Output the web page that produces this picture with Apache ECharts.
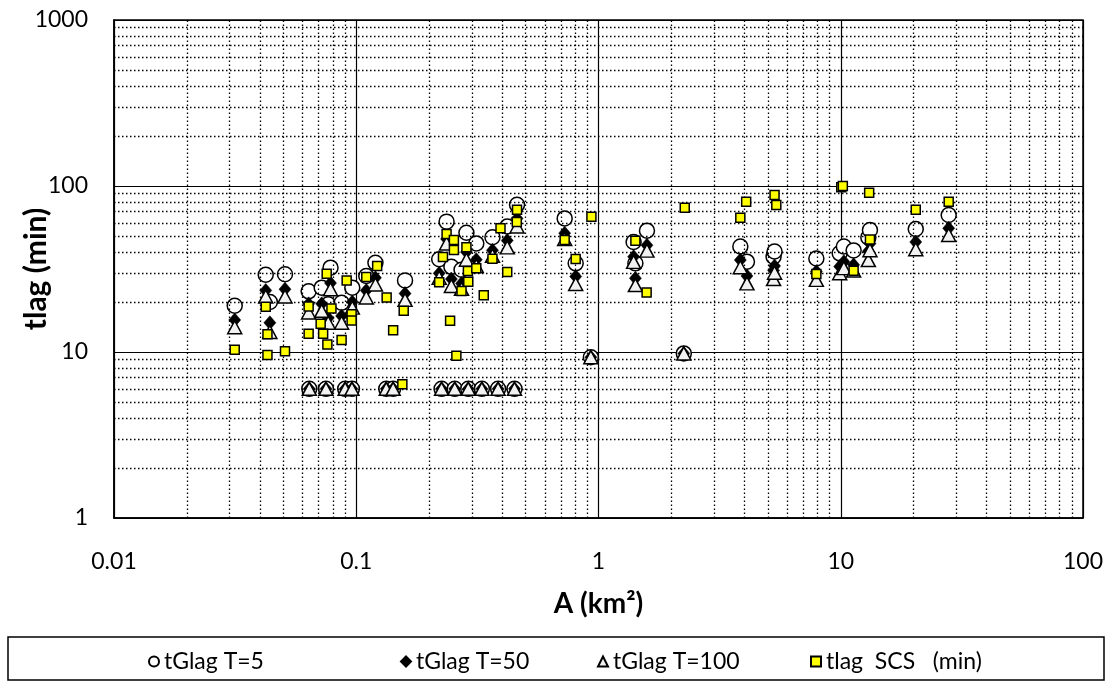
<!DOCTYPE html>
<html>
<head>
<meta charset="utf-8">
<script src="https://cdn.jsdelivr.net/npm/echarts@6/dist/echarts.min.js"></script>
<style>
html,body{margin:0;padding:0;background:#fff;}
#chart{width:1114px;height:682px;}
</style>
</head>
<body>
<div id="chart"></div>
<script>
// ---- Data: [A (km2), tlag (min)] ----
const tGlagT5 = [
  [0.0315,19],[0.0423,29.2],[0.044,20],[0.0508,29.4],[0.0636,23.2],[0.072,24.4],[0.0766,19.4],
  [0.0783,32.2],[0.087,19.8],[0.0963,24.4],[0.11,28.7],[0.12,34.5],[0.159,27],[0.22,36.2],
  [0.236,61],[0.247,32.6],[0.272,31.3],[0.285,52.3],[0.313,45.1],[0.365,49.1],[0.42,57],
  [0.461,77],[0.725,63.8],[0.805,34.2],[1.396,46],[1.42,34.2],[1.585,53.8],[3.85,43.2],
  [4.1,35],[5.28,37.5],[5.33,40.3],[7.93,36.6],[9.9,39.3],[10.3,43.2],[11.3,40.9],[13.0,49],
  [13.2,54.3],[20.4,55.1],[27.9,66.9],
  [0.064,6],[0.075,6],[0.09,6],[0.096,6],[0.133,6],[0.142,6],[0.225,6],[0.255,6],[0.29,6],
  [0.33,6],[0.385,6],[0.45,6],[0.93,9.3],[2.25,9.8]
];
const tGlagT50 = [
  [0.0315,15.6],[0.0423,23.5],[0.044,15],[0.0508,23.9],[0.0636,19.5],[0.072,19.5],[0.0766,16],
  [0.0783,26],[0.087,16.5],[0.0963,20],[0.11,23.5],[0.12,28],[0.159,22.5],[0.22,29.8],
  [0.236,48],[0.247,27.5],[0.272,25.9],[0.285,40],[0.313,36],[0.365,41],[0.42,47],
  [0.461,63.7],[0.725,52],[0.805,28.5],[1.396,37.5],[1.42,27.8],[1.585,44],[3.85,35.8],
  [4.1,28.7],[5.28,31],[5.33,33],[7.93,30.5],[9.9,32.7],[10.3,35],[11.3,33.5],[13.0,40.5],
  [13.2,45],[20.4,46],[27.9,55.6],
  [0.064,6],[0.075,6],[0.09,6],[0.096,6],[0.133,6],[0.142,6],[0.225,6],[0.255,6],[0.29,6],
  [0.33,6],[0.385,6],[0.45,6],[0.93,9.3],[2.25,9.8]
];
const tGlagT100 = [
  [0.0315,14.1],[0.0423,21.6],[0.044,13.2],[0.0508,21.6],[0.0636,17.3],[0.072,17.7],[0.0766,15],
  [0.0783,23.9],[0.087,15],[0.0963,18.5],[0.11,21.3],[0.12,25.5],[0.159,20.6],[0.22,28],
  [0.236,45.1],[0.247,25],[0.272,24],[0.285,36],[0.313,33],[0.365,38],[0.42,42.7],
  [0.461,57],[0.725,48],[0.805,25.7],[1.396,34.9],[1.42,25.3],[1.585,40.8],[3.85,32.4],
  [4.1,25.9],[5.28,27.5],[5.33,30],[7.93,27.2],[9.9,29.8],[10.3,32],[11.3,31],[13.0,35.8],
  [13.2,41],[20.4,41.6],[27.9,50.7],
  [0.064,6],[0.075,6],[0.09,6],[0.096,6],[0.133,6],[0.142,6],[0.225,6],[0.255,6],[0.29,6],
  [0.33,6],[0.385,6],[0.45,6],[0.93,9.3],[2.25,9.8]
];
const tlagSCS = [
  [0.0315,10.3],[0.0423,18.7],[0.043,12.8],[0.043,9.6],[0.0508,10.1],[0.0636,18.8],[0.0636,12.9],
  [0.0713,14.8],[0.073,12.9],[0.0755,29.6],[0.076,11.1],[0.079,18.3],[0.087,11.8],[0.0913,27],
  [0.0957,16.9],[0.0957,15.5],[0.11,28.3],[0.122,33],[0.1335,21.3],[0.142,13.5],[0.157,17.7],
  [0.155,6.4],[0.228,37.4],[0.22,26.3],[0.236,51.4],[0.253,47.3],[0.253,41.1],[0.244,15.4],
  [0.259,9.5],[0.272,23.3],[0.285,42.7],[0.289,30.8],[0.29,26.5],[0.313,31.9],[0.336,22],
  [0.365,36.4],[0.394,55.6],[0.42,30.3],[0.461,72],[0.46,60.7],[0.725,47.3],[0.805,36.3],
  [0.935,65.3],[1.42,46.8],[1.58,22.8],[2.27,74],[3.85,64.4],[4.07,80.4],[5.33,88.3],
  [5.42,76.8],[7.93,29.5],[10.05,98.2],[10.2,100],[11.3,30.9],[13.1,91],[13.2,47.6],
  [20.4,72],[27.9,80.4]
];
const seriesNames = ['tGlag T=5', 'tGlag T=50', 'tGlag T=100', 'tlag  SCS   (min)'];
const xTickLabels = ['0.01','0.1','1','10','100'];
const yTickLabels = ['1','10','100','1000'];

// minor grid positions (2..9 x each decade)
const minorX = [];
[0.01,0.1,1,10].forEach(d => { for (let m = 2; m <= 9; m++) minorX.push(+(d*m).toPrecision(3)); });
const minorY = [];
[1,10,100].forEach(d => { for (let m = 2; m <= 9; m++) minorY.push(d*m); });

const FONT = 'Lato';
const chart = echarts.init(document.getElementById('chart'), null, {renderer:'canvas'});

function fmt(list){ return v => { const s = list.find(t => Math.abs(Math.log10(+t) - Math.log10(v)) < 1e-6); return s || ''; }; }

const legendBase = {
  top: 645, itemWidth: 10, itemHeight: 10, itemGap: 4,
  textStyle: {fontFamily: FONT, fontSize: 23, color: '#000'}
};

const option = {
  animation: false,
  backgroundColor: '#fff',
  grid: {left: 114, right: 31, top: 20, bottom: 164, show: true, borderColor: '#000', borderWidth: 1.5,
         containLabel: false, outerBoundsMode: 'none'},
  xAxis: {
    type: 'log', logBase: 10, min: 0.01, max: 100,
    axisLine: {show: true, onZero: false, lineStyle: {color: '#000', width: 1.5}},
    axisTick: {show: false},
    splitLine: {show: true, lineStyle: {color: '#000', width: 1.2}},
    axisLabel: {formatter: fmt(xTickLabels), fontFamily: FONT, fontSize: 23, color: '#000', margin: 32},
    name: 'A (km²)', nameLocation: 'middle', nameGap: 72, nameMoveOverlap: false,
    nameTextStyle: {fontFamily: FONT, fontSize: 28, fontWeight: 'bold', color: '#000'}
  },
  yAxis: {
    type: 'log', logBase: 10, min: 1, max: 1000,
    axisLine: {show: true, onZero: false, lineStyle: {color: '#000', width: 1.5}},
    axisTick: {show: false},
    splitLine: {show: true, lineStyle: {color: '#000', width: 1.2}},
    axisLabel: {formatter: fmt(yTickLabels), fontFamily: FONT, fontSize: 23, color: '#000', margin: 26},
    name: 'tlag (min)', nameLocation: 'middle', nameGap: 63, nameRotate: 90, nameMoveOverlap: false,
    nameTextStyle: {fontFamily: FONT, fontSize: 30, fontWeight: 'bold', color: '#000'}
  },
  legend: [
    Object.assign({}, legendBase, {left: 143, data: [seriesNames[0]]}),
    Object.assign({}, legendBase, {left: 395, data: [seriesNames[1]]}),
    Object.assign({}, legendBase, {left: 592, data: [seriesNames[2]]}),
    Object.assign({}, legendBase, {left: 805, data: [seriesNames[3]]})
  ],
  graphic: [{
    type: 'rect', z: 0, silent: true,
    shape: {x: 8, y: 637, width: 1096, height: 43},
    style: {fill: 'none', stroke: '#000', lineWidth: 1.5}
  }],
  series: [
    {
      name: '_grid', type: 'scatter', data: [], silent: true, z: 1,
      markLine: {
        silent: true, symbol: ['none','none'], animation: false,
        label: {show: false},
        lineStyle: {color: '#000', width: 1.3, type: [1.5, 2.5]},
        emphasis: {disabled: true},
        data: minorX.map(v => ({xAxis: v})).concat(minorY.map(v => ({yAxis: v})))
      }
    },
    {
      name: seriesNames[0], type: 'scatter', data: tGlagT5, z: 3,
      symbol: 'circle', symbolSize: 15,
      itemStyle: {color: '#fff', borderColor: '#000', borderWidth: 1.5, opacity: 1}
    },
    {
      name: seriesNames[1], type: 'scatter', data: tGlagT50, z: 4,
      symbol: 'diamond', symbolSize: [12, 14],
      itemStyle: {color: '#000', borderColor: '#000', borderWidth: 0.5, opacity: 1}
    },
    {
      name: seriesNames[2], type: 'scatter', data: tGlagT100, z: 5,
      symbol: 'triangle', symbolSize: [14, 13],
      itemStyle: {color: '#f2f2f2', borderColor: '#000', borderWidth: 1.5, opacity: 1}
    },
    {
      name: seriesNames[3], type: 'scatter', data: tlagSCS, z: 6,
      symbol: 'rect', symbolSize: 9,
      itemStyle: {color: '#ffff00', borderColor: '#000', borderWidth: 1.5, opacity: 1}
    }
  ]
};
chart.setOption(option);
</script>
</body>
</html>
